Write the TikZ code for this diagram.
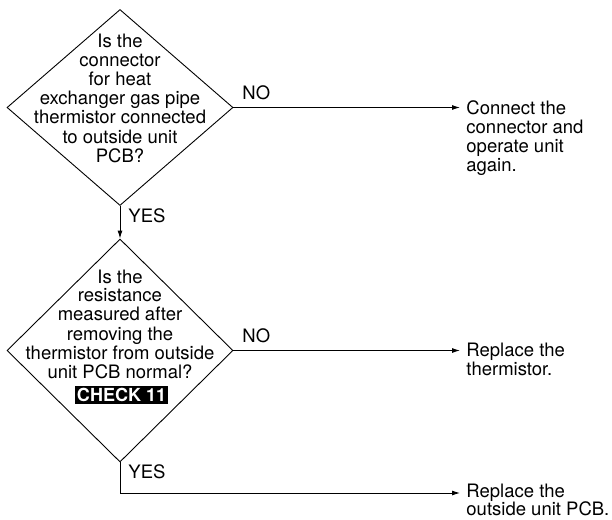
\documentclass[tikz,border=0pt]{standalone}
\usepackage{fontspec}
\setmainfont{TeX Gyre Heros}
\usetikzlibrary{shapes.geometric,arrows.meta}
\begin{document}
\begin{tikzpicture}[x=1pt,y=-1pt, line width=0.9pt,
  every node/.style={inner sep=0pt, font=\fontsize{18.5}{18.8}\selectfont},
  dec/.style={draw, shape=diamond, minimum width=226pt, minimum height=#1},
  lbl/.style={anchor=base west},
  txt/.style={anchor=base},
  res/.style={anchor=base west},
  arr/.style={-{Latex[length=8pt,width=5pt]}},
  chk/.style={fill=black, text=white, font=\fontsize{18}{18}\selectfont\bfseries,
    minimum width=93pt, minimum height=18pt, text height=13pt, text depth=0pt}]
\useasboundingbox (0,0) rectangle (612,519);
\node[dec=196pt] (d1) at (120,107.5) {};
\node[dec=223pt] (d2) at (120,350.5) {};
\node[txt] (q1) at (120,47.7) {\begin{tabular}[t]{@{}c@{}}Is the\\connector\\for heat\\exchanger gas pipe\\thermistor connected\\to outside unit\\PCB?\end{tabular}};
\node[txt] (q2) at (120,283) {\begin{tabular}[t]{@{}c@{}}Is the\\resistance\\measured after\\removing the\\thermistor from outside\\unit PCB normal?\end{tabular}};
\node[chk] (ck) at (121.5,395) {CHECK 11};
\node[lbl] (n1) at (242,99.3) {NO};
\node[lbl] (y1) at (128,222.7) {YES};
\node[lbl] (n2) at (242,342.3) {NO};
\node[lbl] (y2) at (128,478.3) {YES};
\node[res] (r1) at (466,114.3) {\begin{tabular}[t]{@{}l@{}}Connect the\\connector and\\operate unit\\again.\end{tabular}};
\node[res] (r2) at (466,356.3) {\begin{tabular}[t]{@{}l@{}}Replace the\\thermistor.\end{tabular}};
\node[res] (r3) at (466,497) {Replace the};
\node[res, text depth=0pt] (r4) at (466,515) {outside unit PCB.};
\coordinate (e1) at (460,107.5);
\coordinate (e2) at (460,350.5);
\coordinate (c3) at (120,493);
\coordinate (e3) at (460,493);
\draw[arr] (d1.south) -- (d2.north);
\draw[arr] (d1.east) -- (e1);
\draw[arr] (d2.east) -- (e2);
\draw[arr] (d2.south) -- (c3) -- (e3);
\end{tikzpicture}
\end{document}
